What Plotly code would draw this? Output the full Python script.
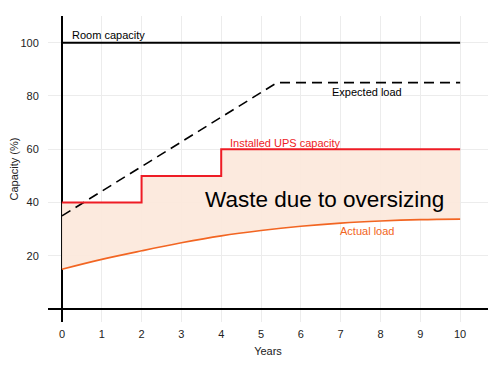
import plotly.graph_objects as go

years = [0, 1, 2, 3, 4, 5, 6, 7, 8, 9, 10]
actual_load = [15, 18.7, 21.9, 24.9, 27.5, 29.5, 31.1, 32.3, 33.1, 33.6, 33.8]
ups_x = [0, 2, 2, 4, 4, 10]
ups_y = [40, 40, 50, 50, 60, 60]
expected_x = [0, 5.4, 10]
expected_y = [35, 85, 85]
room_x = [0, 10]
room_y = [100, 100]
x_ticks = [0, 1, 2, 3, 4, 5, 6, 7, 8, 9, 10]
y_ticks = [20, 40, 60, 80, 100]

RED = "#ee1c25"
ORANGE = "#f26522"
FILL = "rgba(252,233,220,0.95)"

fig = go.Figure()

# Filled band between actual load (spline) and the installed UPS step
band_x = list(years) + ups_x[::-1] + [years[0]]
band_y = list(actual_load) + ups_y[::-1] + [actual_load[0]]
fig.add_trace(go.Scatter(x=band_x, y=band_y, mode="lines",
                         line=dict(color="rgba(0,0,0,0)", width=0), fill="toself", fillcolor=FILL,
                         hoverinfo="skip", showlegend=False))

fig.add_trace(go.Scatter(x=room_x, y=room_y, mode="lines", line=dict(color="black", width=2), showlegend=False))
fig.add_trace(go.Scatter(x=expected_x, y=expected_y, mode="lines",
                         line=dict(color="black", width=1.6, dash="10px,6px"), showlegend=False))
fig.add_trace(go.Scatter(x=ups_x, y=ups_y, mode="lines", line=dict(color=RED, width=2), showlegend=False))
fig.add_trace(go.Scatter(x=years, y=actual_load, mode="lines",
                         line=dict(color=ORANGE, width=1.6, shape="spline"), showlegend=False))

font = "Liberation Sans, Arial, sans-serif"
annotations = [
    dict(x=0.2, y=103.0, text="Room capacity", xanchor="left", yanchor="middle", font=dict(size=11, color="black")),
    dict(x=7.65, y=81.5, text="Expected load", xanchor="center", yanchor="middle", font=dict(size=11, color="black")),
    dict(x=4.18, y=62.4, text="Installed UPS capacity", xanchor="left", yanchor="middle", font=dict(size=11, color=RED)),
    dict(x=7.65, y=29.3, text="Actual load", xanchor="center", yanchor="middle", font=dict(size=11, color=ORANGE)),
    dict(x=6.6, y=41.2, text="Waste due to oversizing", xanchor="center", yanchor="middle", font=dict(size=22.5, color="black")),
]
for a in annotations:
    a.update(xref="x", yref="y", showarrow=False)

# page body has an 8px default margin; size the figure so it fits the 497x365 window
fig.update_layout(
    width=489, height=357,
    margin=dict(l=40, r=9, t=8, b=43, autoexpand=False),
    paper_bgcolor="white", plot_bgcolor="white",
    font=dict(family=font, size=11, color="#222222"),
    annotations=annotations,
    xaxis=dict(range=[-0.35, 10.7], tickvals=x_ticks, ticktext=[str(v) for v in x_ticks],
               showgrid=True, gridcolor="#ececec", gridwidth=1,
               zeroline=True, zerolinecolor="black", zerolinewidth=2,
               ticks="outside", ticklen=2, tickcolor="rgba(0,0,0,0)",
               title=dict(text="Years", font=dict(size=11), standoff=8),
               tickfont=dict(size=11), showline=False, automargin=False),
    yaxis=dict(range=[-4.8, 110], tickvals=y_ticks, ticktext=[str(v) for v in y_ticks],
               showgrid=True, gridcolor="#ececec", gridwidth=1,
               zeroline=True, zerolinecolor="black", zerolinewidth=2,
               ticks="outside", ticklen=6, tickcolor="rgba(0,0,0,0)",
               title=dict(text="Capacity (%)", font=dict(size=11), standoff=4),
               tickfont=dict(size=11), showline=False, automargin=False),
)

fig.write_html("out.html")
